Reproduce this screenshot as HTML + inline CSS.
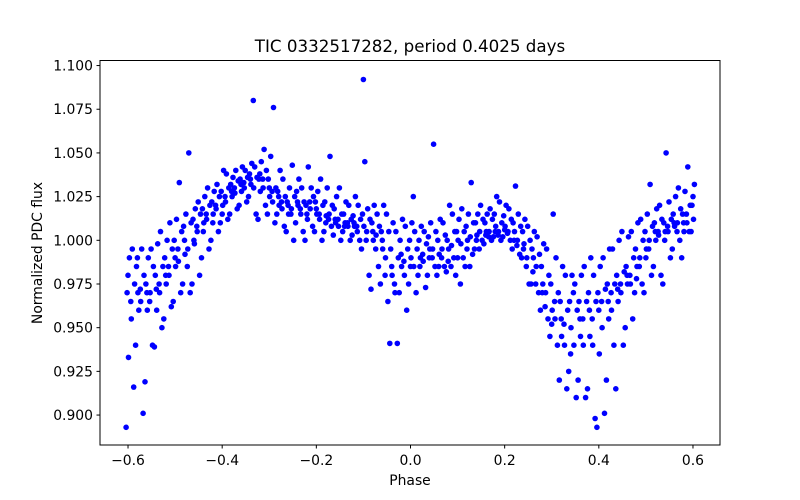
<!DOCTYPE html>
<html><head><meta charset="utf-8"><style>
html,body{margin:0;padding:0;background:#fff;}
svg{display:block;font-family:"DejaVu Sans","Liberation Sans",sans-serif;}
</style></head><body>
<svg id="chart" width="800" height="500" viewBox="0 0 800 500">
<rect width="800" height="500" fill="#fff"/>
<text x="410" y="52" text-anchor="middle" font-size="16.7" fill="#000">TIC 0332517282, period 0.4025 days</text>
<g id="points"></g>
<rect x="100" y="60.5" width="620" height="384.5" fill="none" stroke="#000" stroke-width="1"/>
<g id="xticks"></g>
<g id="yticks"></g>
<text x="410" y="485" text-anchor="middle" font-size="13.9">Phase</text>
<text transform="translate(42,253) rotate(-90)" text-anchor="middle" font-size="13.9">Normalized PDC flux</text>
</svg>
<script>
// phase bin centers
const phases = [-0.60,-0.59,-0.58,-0.57,-0.56,-0.55,-0.54,-0.53,-0.52,-0.51,-0.50,-0.49,-0.48,-0.47,-0.46,-0.45,-0.44,-0.43,-0.42,-0.41,-0.40,-0.39,-0.38,-0.37,-0.36,-0.35,-0.34,-0.33,-0.32,-0.31,-0.30,-0.29,-0.28,-0.27,-0.26,-0.25,-0.24,-0.23,-0.22,-0.21,-0.20,-0.19,-0.18,-0.17,-0.16,-0.15,-0.14,-0.13,-0.12,-0.11,-0.10,-0.09,-0.08,-0.07,-0.06,-0.05,-0.04,-0.03,-0.02,-0.01,0.00,0.01,0.02,0.03,0.04,0.05,0.06,0.07,0.08,0.09,0.10,0.11,0.12,0.13,0.14,0.15,0.16,0.17,0.18,0.19,0.20,0.21,0.22,0.23,0.24,0.25,0.26,0.27,0.28,0.29,0.30,0.31,0.32,0.33,0.34,0.35,0.36,0.37,0.38,0.39,0.40,0.41,0.42,0.43,0.44,0.45,0.46,0.47,0.48,0.49,0.50,0.51,0.52,0.53,0.54,0.55,0.56,0.57,0.58,0.59,0.60];
// flux deviations in units of 0.001 (flux = 1 + v/1000), several points per phase bin
const fluxMilli = [
[-107,-67,-30,-10,-20],[-84,-45,-25,-5,-35],[-60,-30,-15,-40,-10],[-99,-35,-20,-5,-28],[-81,-40,-25,-10,-30],
[-60,-30,-15,-5,-35],[-61,-40,-20,-2,-28],[-50,-30,-15,5,-25],[-45,-25,-10,0,-20],[-38,-20,-5,10,-15],
[-35,-15,0,12,-10],[-30,-12,5,33,-5],[-25,-8,8,15,0],[-30,-5,10,50,-15],[-25,-2,12,18,0],
[-20,5,15,22,8],[-10,10,18,25,5],[-5,12,20,30,15],[0,15,22,28,10],[5,18,25,32,20],
[10,20,28,40,15],[12,22,30,38,25],[15,25,32,36,28],[18,27,34,40,30],[20,28,35,42,32],
[22,30,36,40,33],[25,32,38,44,35],[15,30,36,42,80],[12,28,35,45,38],[20,30,40,52,35],
[15,25,35,48,30],[10,22,30,76,28],[15,20,28,40,25],[8,18,25,35,22],[5,15,22,30,20],
[0,18,25,43,15],[10,20,28,35,22],[5,15,22,30,18],[0,12,20,42,15],[8,18,25,30,22],
[5,15,22,28,18],[0,12,20,35,15],[5,14,22,30,10],[8,15,20,48,12],[3,10,18,25,12],
[0,8,15,30,12],[5,10,15,22,8],[0,8,12,20,10],[3,8,14,25,10],[0,5,12,20,8],
[-5,8,15,45,92],[-20,5,12,18,0],[-28,0,10,20,5],[-15,3,8,15,-5],[-25,-5,5,20,0],
[-35,-10,5,15,-20],[-59,-20,-5,10,-15],[-59,-30,-10,5,-25],[-30,-15,0,12,-8],[-40,-20,-5,8,-12],
[-25,-10,0,10,-15],[-30,-15,-5,5,25],[-20,-10,0,8,-15],[-27,-12,-2,5,-8],[-20,-5,2,10,-10],
[-15,-5,5,55,-10],[-20,-8,0,12,-15],[-15,-5,3,10,-10],[-18,-5,0,20,-12],[-10,-3,5,15,-15],
[-20,0,5,12,-10],[-10,-2,5,18,-25],[-15,0,8,15,-5],[-8,2,10,33,-15],[-5,3,10,15,0],
[0,5,12,20,-5],[-2,5,10,15,3],[0,5,12,18,2],[2,8,15,25,5],[0,5,10,22,3],
[2,8,14,20,6],[0,5,12,18,4],[-5,5,10,31,0],[-8,0,8,15,-3],[-10,-2,5,12,-5],
[-25,-10,0,8,-15],[-25,-10,-5,5,-18],[-30,-15,-8,2,-25],[-40,-25,-15,-2,-30],[-45,-30,-20,-5,-38],
[-55,-40,-25,15,-48],[-60,-45,-30,-10,-35],[-80,-55,-35,-15,-45],[-85,-60,-40,-20,-48],[-75,-50,-35,-20,-65],
[-90,-60,-40,-25,-30],[-80,-55,-35,-20,-45],[-90,-60,-35,-15,-45],[-85,-55,-30,-10,-40],[-102,-60,-35,-20,-45],
[-107,-65,-30,-15,-40],[-99,-50,-28,-10,-35],[-80,-45,-25,-5,-35],[-60,-40,-25,-5,-30],[-85,-35,-20,0,-28],
[-60,-30,-18,5,-25],[-50,-25,-15,2,-20],[-45,-25,-10,5,-20],[-30,-15,-5,10,-22],[-25,-10,0,12,-15],
[-30,-5,5,15,-10],[-20,0,8,32,-5],[-15,0,10,18,5],[-20,3,12,20,5],[-25,5,10,50,0],
[-10,5,12,22,8],[-5,8,15,25,10],[0,10,18,30,5],[-10,5,15,28,10],[5,10,20,42,15],
[5,12,20,32,25]
];
const xTickValues = [-0.6,-0.4,-0.2,0.0,0.2,0.4,0.6];
const xTickLabels = ["\u22120.6","\u22120.4","\u22120.2","0.0","0.2","0.4","0.6"];
const yTickValues = [0.900,0.925,0.950,0.975,1.000,1.025,1.050,1.075,1.100];
const yTickLabels = ["0.900","0.925","0.950","0.975","1.000","1.025","1.050","1.075","1.100"];

const NS = "http://www.w3.org/2000/svg";
function xScale(v){ return 410.5 + v*470.8; }
function yScale(v){ return 240.3 - (v-1)*1747.5; }
// within-bin phase spread (fraction of a 0.01 bin), purely to de-grid the markers
const jitterA = [-0.004,0.001,-0.002,0.003,0.0];
const jitterB = [0.002,-0.003,0.004,-0.001,-0.004];

const gp = document.getElementById('points');
phases.forEach((p,i)=>{
  const jit = (i % 2 === 0) ? jitterA : jitterB;
  fluxMilli[i].forEach((m,j)=>{
    const c = document.createElementNS(NS,'circle');
    c.setAttribute('cx', xScale(p + jit[j]).toFixed(1));
    c.setAttribute('cy', yScale(1 + m/1000).toFixed(1));
    c.setAttribute('r', 2.8);
    c.setAttribute('fill', '#0000ff');
    
    
    gp.appendChild(c);
  });
});

const gx = document.getElementById('xticks');
xTickValues.forEach((v,i)=>{
  const x = xScale(v);
  const l = document.createElementNS(NS,'line');
  l.setAttribute('x1',x); l.setAttribute('x2',x); l.setAttribute('y1',445); l.setAttribute('y2',448.5);
  l.setAttribute('stroke','#000');
  
  
  gx.appendChild(l);
  const t = document.createElementNS(NS,'text');
  t.setAttribute('x',x); t.setAttribute('y',465); t.setAttribute('text-anchor','middle'); t.setAttribute('font-size','13.9');
  t.textContent = xTickLabels[i];
  
  
  gx.appendChild(t);
});
const gy = document.getElementById('yticks');
yTickValues.forEach((v,i)=>{
  const y = yScale(v);
  const l = document.createElementNS(NS,'line');
  l.setAttribute('x1',96.5); l.setAttribute('x2',100); l.setAttribute('y1',y); l.setAttribute('y2',y);
  l.setAttribute('stroke','#000');
  
  
  gy.appendChild(l);
  const t = document.createElementNS(NS,'text');
  t.setAttribute('x',93); t.setAttribute('y',y+5); t.setAttribute('text-anchor','end'); t.setAttribute('font-size','13.9');
  t.textContent = yTickLabels[i];
  
  
  gy.appendChild(t);
});
</script>
</body></html>
